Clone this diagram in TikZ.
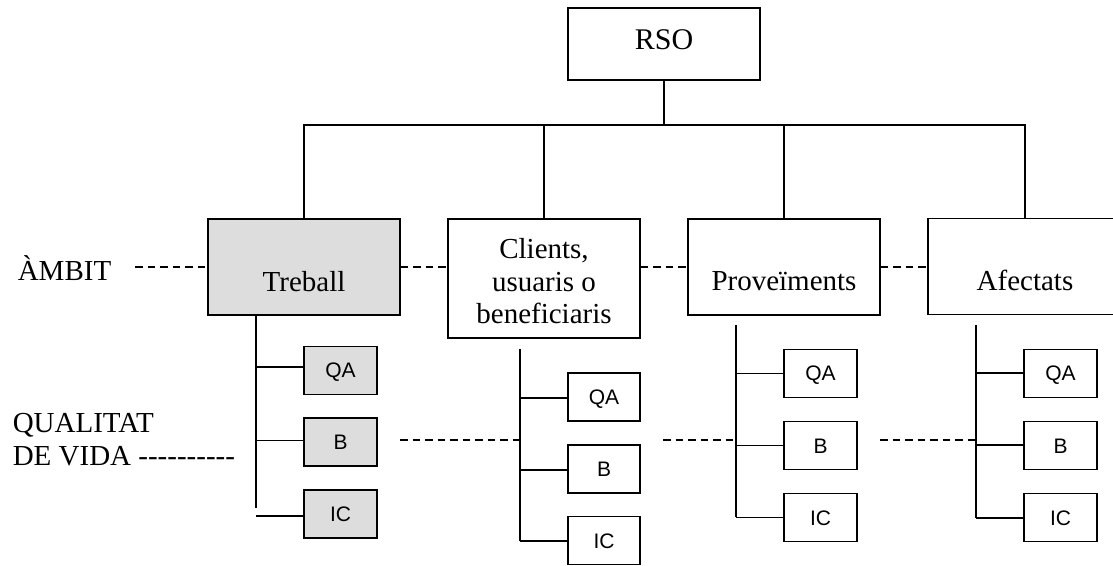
\documentclass[tikz,border=0pt]{standalone}
\usepackage{fontspec}
\setmainfont{Liberation Serif}
\newfontfamily\arialfont{Liberation Sans}
\definecolor{boxgray}{HTML}{DDDDDD}
\newcommand\myhy{-\kern0pt}
\begin{document}
\begin{tikzpicture}[x=1pt,y=-1pt, line width=1.6pt,
  bigbox/.style={draw, minimum width=192pt, minimum height=96pt, inner sep=0pt},
  subbox/.style={draw, minimum width=72.5pt, minimum height=48pt, inner sep=0pt,
    font=\arialfont\fontsize{21}{24}\selectfont, text height=15pt, text depth=0pt},
  lbl/.style={font=\fontsize{29}{33}\selectfont, inner sep=0pt, anchor=base},
  dashline/.style={dash pattern=on 7.5pt off 5pt},
  graybox/.style={fill=boxgray}]
\useasboundingbox (0,0) rectangle (1113,565);

% top node
\node[draw, minimum width=192pt, minimum height=72pt, inner sep=0pt] (rso) at (664,44) {};
\node[lbl, font=\fontsize{30}{34}\selectfont] (rsotxt) at (664,49) {RSO};

% level one
\node[bigbox, graybox] (treball) at (304,267) {};
\node[lbl] (treballtxt) at (304,291) {Treball};
\node[bigbox, minimum height=119pt] (clients) at (544,278.5) {};
\node[lbl] (cl1) at (544,258) {Clients,};
\node[lbl] (cl2) at (544,291) {usuaris o};
\node[lbl] (cl3) at (544,323) {beneficiaris};
\node[bigbox] (prov) at (784,267) {};
\node[lbl] (provtxt) at (784,290) {Proveïments};
\node[bigbox, minimum width=230pt] (afect) at (1043,266.5) {};
\node[lbl] (afecttxt) at (1025,290) {Afectats};

% side labels
\node[lbl, anchor=base west] (ambit) at (17,280) {ÀMBIT};
\node[lbl, anchor=base west] (qual1) at (12,432) {QUALITAT};
\node[lbl, anchor=base west] (qual2) at (12,465) {DE VIDA \myhy\myhy\myhy\myhy\myhy\myhy\myhy\myhy\myhy\myhy};

% tree connectors
\coordinate (bus) at (664,125);
\coordinate (atop) at (1025,218.5);
\draw (rso.south) -- (bus);
\draw (treball.north) -- (treball.north |- bus) -- (atop |- bus) -- (atop);
\draw (clients.north) -- (clients.north |- bus);
\draw (prov.north) -- (prov.north |- bus);

% sub boxes
\node[subbox, graybox] (tqa) at (340.5,370.3) {QA};
\node[subbox, graybox] (tb)  at (340.5,441.7) {B};
\node[subbox, graybox] (tic) at (340.5,514.2) {IC};
\node[subbox] (cqa) at (604,397) {QA};
\node[subbox] (cb)  at (604,469) {B};
\node[subbox] (cic) at (604,540.5) {IC};
\node[subbox] (pqa) at (820.5,373.3) {QA};
\node[subbox] (pb)  at (820.5,445.5) {B};
\node[subbox] (pic) at (820.5,517.5) {IC};
\node[subbox] (aqa) at (1060.5,373.3) {QA};
\node[subbox] (ab)  at (1060.5,445.5) {B};
\node[subbox] (aic) at (1060.5,517.5) {IC};

% Treball branch
\coordinate (tvtop) at (256,315);
\coordinate (tvbot) at (256,508);
\coordinate (tc1) at (256,366.7);
\coordinate (tc2) at (256,440.3);
\coordinate (tc3) at (256,515.7);
\draw (tvtop) -- (tvbot);
\draw (tc1) -- (tc1 -| tqa.west);
\draw (tc2) -- (tc2 -| tb.west);
\draw (tc3) -- (tc3 -| tic.west);

% Clients branch
\coordinate (cvtop) at (520,349);
\coordinate (cvbot) at (520,541);
\coordinate (cc1) at (520,397.7);
\coordinate (cc2) at (520,470);
\coordinate (cc3) at (520,540.7);
\draw (cvtop) -- (cvbot);
\draw (cc1) -- (cc1 -| cqa.west);
\draw (cc2) -- (cc2 -| cb.west);
\draw (cc3) -- (cc3 -| cic.west);

% Proveiments branch
\coordinate (pvtop) at (736,325);
\coordinate (pvbot) at (736,517.3);
\coordinate (pc1) at (736,373.3);
\coordinate (pc2) at (736,445.3);
\coordinate (pc3) at (736,517.3);
\draw (pvtop) -- (pvbot);
\draw (pc1) -- (pc1 -| pqa.west);
\draw (pc2) -- (pc2 -| pb.west);
\draw (pc3) -- (pc3 -| pic.west);

% Afectats branch
\coordinate (avtop) at (976,325);
\coordinate (avbot) at (976,518);
\coordinate (ac1) at (976,372.7);
\coordinate (ac2) at (976,445);
\coordinate (ac3) at (976,518);
\draw (avtop) -- (avbot);
\draw (ac1) -- (ac1 -| aqa.west);
\draw (ac2) -- (ac2 -| ab.west);
\draw (ac3) -- (ac3 -| aic.west);

% dashed level lines
\coordinate (amb0) at (135,266.7);
\draw[dashline] (amb0) -- (amb0 -| treball.west);
\draw[dashline] (treball.east) -- (treball.east -| clients.west);
\draw[dashline] (treball.east -| clients.east) -- (treball.east -| prov.west);
\draw[dashline] (prov.east) -- (prov.east -| afect.west);

\coordinate (q0) at (400,440);
\coordinate (q1) at (663,440);
\coordinate (q2) at (880,440);
\draw[dashline] (q0) -- (q0 -| cvtop);
\draw[dashline] (q1) -- (q1 -| pvtop);
\draw[dashline] (q2) -- (q2 -| avtop);
\end{tikzpicture}
\end{document}
